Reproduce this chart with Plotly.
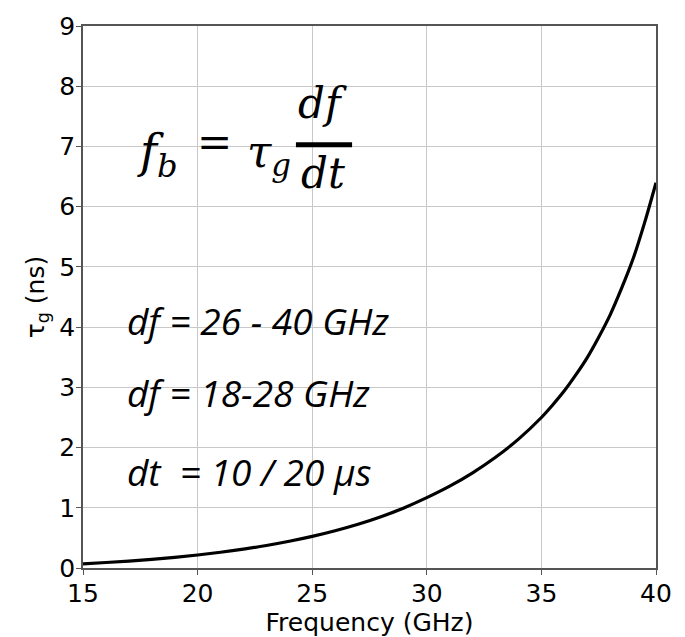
import plotly.graph_objects as go

freq_ghz = [15, 16, 17, 18, 19, 20, 21, 22, 23, 24, 25, 26, 27, 28, 29, 30,
            31, 32, 33, 34, 35, 35.5, 36, 36.5, 37, 37.5, 38, 38.5, 39, 39.5, 40]
tau_ns = [0.070, 0.091, 0.115, 0.144, 0.177, 0.216, 0.261, 0.313, 0.374, 0.444,
          0.525, 0.619, 0.727, 0.852, 0.998, 1.168, 1.359, 1.581, 1.838, 2.140,
          2.499, 2.711, 2.942, 3.206, 3.494, 3.832, 4.204, 4.646, 5.134, 5.731, 6.398]

x_ticks = [15, 20, 25, 30, 35, 40]
y_ticks = [0, 1, 2, 3, 4, 5, 6, 7, 8, 9]

text_lines = ["df = 26 - 40 GHz", "df = 18-28 GHz", "dt  = 10 / 20 μs"]
text_y = [4.11, 2.92, 1.6]
text_x = 16.83

fig = go.Figure()
fig.add_trace(go.Scatter(x=freq_ghz, y=tau_ns, mode="lines",
                         line=dict(color="black", width=3.2, shape="spline"),
                         showlegend=False, hoverinfo="skip"))

serif = "DejaVu Serif"
sans_it = "Open Sans"

annotations = []
# formula pieces
annotations.append(dict(x=17.25, y=6.86, xref="x", yref="y", xanchor="left", yanchor="middle",
                        text="<i>f</i><sub><i>b</i></sub>",
                        showarrow=False, font=dict(family=serif, size=46, color="black")))
annotations.append(dict(x=20.72, y=7.06, xref="x", yref="y", xanchor="center", yanchor="middle",
                        text="=", showarrow=False, font=dict(family=serif, size=42, color="black")))
annotations.append(dict(x=22.05, y=6.86, xref="x", yref="y", xanchor="left", yanchor="middle",
                        text="<i>τ</i><sub><i>g</i></sub>",
                        showarrow=False, font=dict(family=serif, size=44, color="black")))
annotations.append(dict(x=25.45, y=7.72, xref="x", yref="y", xanchor="center", yanchor="middle",
                        text="<i>df</i>", showarrow=False,
                        font=dict(family=serif, size=42, color="black")))
annotations.append(dict(x=25.45, y=6.55, xref="x", yref="y", xanchor="center", yanchor="middle",
                        text="<i>dt</i>", showarrow=False,
                        font=dict(family=serif, size=42, color="black")))
for t, yy in zip(text_lines, text_y):
    annotations.append(dict(x=text_x, y=yy, xref="x", yref="y", xanchor="left", yanchor="middle",
                            text="<i>" + t + "</i>", showarrow=False,
                            font=dict(family=sans_it, size=37, color="black")))

fig.add_shape(type="line", xref="x", yref="y", x0=24.29, x1=26.74, y0=7.03, y1=7.03,
              line=dict(color="black", width=5))

fig.update_layout(
    width=685, height=637,
    margin=dict(l=83, r=29, t=15, b=64),
    plot_bgcolor="white", paper_bgcolor="white",
    annotations=annotations,
    font=dict(family="DejaVu Sans", color="black"),
)
fig.update_xaxes(range=[15, 40], tickvals=x_ticks, ticktext=[str(v) for v in x_ticks],
                 showgrid=True, gridcolor="#c8c8c8", gridwidth=1,
                 showline=True, linecolor="#555", linewidth=1.5, mirror=True,
                 ticks="outside", ticklen=5, tickcolor="#555",
                 tickfont=dict(size=25, family="DejaVu Sans"), ticklabelstandoff=-3,
                 title=dict(text="Frequency (GHz)", font=dict(size=25, family="DejaVu Sans"), standoff=0),
                 zeroline=False)
fig.update_yaxes(range=[0, 9], tickvals=y_ticks, ticktext=[str(v) for v in y_ticks],
                 showgrid=True, gridcolor="#c8c8c8", gridwidth=1,
                 showline=True, linecolor="#555", linewidth=1.5, mirror=True,
                 ticks="outside", ticklen=5, tickcolor="#555",
                 tickfont=dict(size=25, family="DejaVu Sans"), ticklabelstandoff=-4,
                 title=dict(text="τ<sub>g</sub> (ns)", font=dict(size=25, family="DejaVu Sans"), standoff=8),
                 zeroline=False)

fig.write_html("out.html")
